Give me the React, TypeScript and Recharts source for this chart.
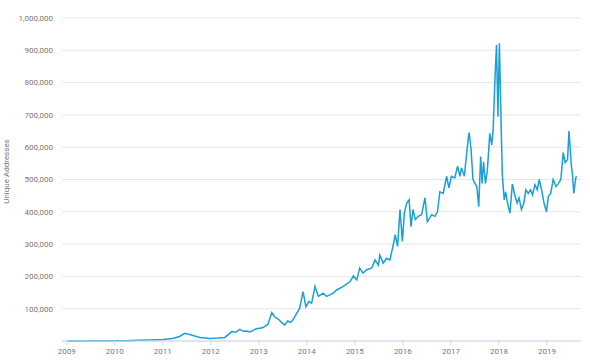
import { LineChart, Line, XAxis, YAxis, CartesianGrid } from "recharts";

// decimal years and unique address counts
const years = [
  2009.01, 2009.3, 2009.6, 2009.9, 2010.2, 2010.5, 2010.73, 2011.0, 2011.2, 2011.35,
  2011.46, 2011.56, 2011.77, 2011.98, 2012.15, 2012.29, 2012.44, 2012.52, 2012.6, 2012.68,
  2012.75, 2012.82, 2012.88, 2012.95, 2013.08, 2013.19, 2013.27, 2013.33, 2013.4, 2013.48,
  2013.54, 2013.6, 2013.66, 2013.71, 2013.79, 2013.85, 2013.92, 2013.98, 2014.04, 2014.1,
  2014.17, 2014.24, 2014.34, 2014.41, 2014.55, 2014.62, 2014.76, 2014.9, 2014.97, 2015.04,
  2015.1, 2015.17, 2015.24, 2015.35, 2015.42, 2015.49, 2015.52, 2015.59, 2015.66, 2015.73,
  2015.8, 2015.84, 2015.89, 2015.94, 2015.99, 2016.03, 2016.08, 2016.13, 2016.17, 2016.21,
  2016.26, 2016.32, 2016.39, 2016.46, 2016.51, 2016.6, 2016.67, 2016.72, 2016.77, 2016.84,
  2016.91, 2016.96, 2017.01, 2017.08, 2017.14, 2017.19, 2017.22, 2017.28, 2017.33, 2017.36,
  2017.38, 2017.42, 2017.46, 2017.5, 2017.54, 2017.58, 2017.62, 2017.65, 2017.68, 2017.72,
  2017.76, 2017.81, 2017.85, 2017.88, 2017.92, 2017.95, 2017.98, 2018.01, 2018.04, 2018.07,
  2018.11, 2018.14, 2018.18, 2018.23, 2018.28, 2018.33, 2018.38, 2018.42, 2018.47, 2018.52,
  2018.56, 2018.61, 2018.66, 2018.7, 2018.75, 2018.8, 2018.84, 2018.89, 2018.94, 2018.99,
  2019.03, 2019.08, 2019.13, 2019.19, 2019.24, 2019.29, 2019.34, 2019.38, 2019.43, 2019.46,
  2019.51, 2019.53, 2019.56, 2019.6, 2019.62,
];

const addresses = [
  100, 300, 500, 700, 1000, 2000, 3000, 5000, 8000, 14000,
  24000, 20000, 11000, 8000, 9000, 11000, 29000, 27000, 36000, 30000,
  31000, 28000, 33000, 38000, 41000, 52000, 88000, 75000, 68000, 57000,
  50000, 62000, 58000, 65000, 86000, 101000, 153000, 106000, 122000, 117000,
  169000, 138000, 148000, 138000, 148000, 158000, 169000, 184000, 202000, 189000,
  226000, 210000, 220000, 226000, 251000, 235000, 266000, 241000, 256000, 251000,
  298000, 329000, 293000, 407000, 308000, 396000, 427000, 437000, 354000, 407000,
  376000, 386000, 391000, 443000, 369000, 391000, 386000, 400000, 462000, 457000,
  510000, 474000, 510000, 505000, 541000, 510000, 536000, 510000, 583000, 624000,
  645000, 593000, 500000, 488000, 478000, 416000, 571000, 488000, 555000, 488000,
  529000, 643000, 607000, 653000, 818000, 916000, 694000, 922000, 715000, 519000,
  437000, 462000, 427000, 396000, 486000, 452000, 427000, 443000, 407000, 427000,
  468000, 457000, 468000, 452000, 484000, 468000, 500000, 468000, 427000, 400000,
  448000, 457000, 500000, 478000, 488000, 500000, 583000, 552000, 562000, 650000,
  541000, 519000, 457000, 505000, 510000,
];

const yearTicks = [2009, 2010, 2011, 2012, 2013, 2014, 2015, 2016, 2017, 2018, 2019];
const valueTicks = [0, 100000, 200000, 300000, 400000, 500000, 600000, 700000, 800000, 900000, 1000000];

const data = years.map((t, i) => ({ t, v: addresses[i] }));

const tickStyle = { fontSize: 8, fill: "#777", fontFamily: "Roboto, sans-serif" };

export default function App() {
  return (
    <div style={{ position: "absolute", left: 0, top: 0 }}>
      <LineChart
        width={590}
        height={364}
        data={data}
        margin={{ top: 18, right: 9, bottom: 0, left: 0 }}
      >
        <CartesianGrid vertical={false} stroke="#e6e6e6" />
        <XAxis
          dataKey="t"
          type="number"
          domain={[2008.9, 2019.71]}
          ticks={yearTicks}
          allowDataOverflow
          height={23}
          tick={tickStyle}
          tickSize={4}
          tickMargin={3}
          stroke="#ccd6eb"
          tickFormatter={(v: number) => String(v)}
        />
        <YAxis
          width={62}
          domain={[0, 1000000]}
          ticks={valueTicks}
          axisLine={false}
          tickLine={false}
          tickMargin={3}
          tick={tickStyle}
          tickFormatter={(v: number) => (v === 0 ? "" : v.toLocaleString("en-US"))}
          label={{
            value: "Unique Addresses",
            angle: -90,
            position: "insideLeft",
            offset: 6,
            dy: -8,
            style: { fontSize: 8, fill: "#777", fontFamily: "Roboto, sans-serif", textAnchor: "middle" },
          }}
        />
        <Line
          type="linear"
          dataKey="v"
          stroke="#1b9fd8"
          strokeWidth={1.5}
          dot={false}
          isAnimationActive={false}
        />
      </LineChart>
    </div>
  );
}
